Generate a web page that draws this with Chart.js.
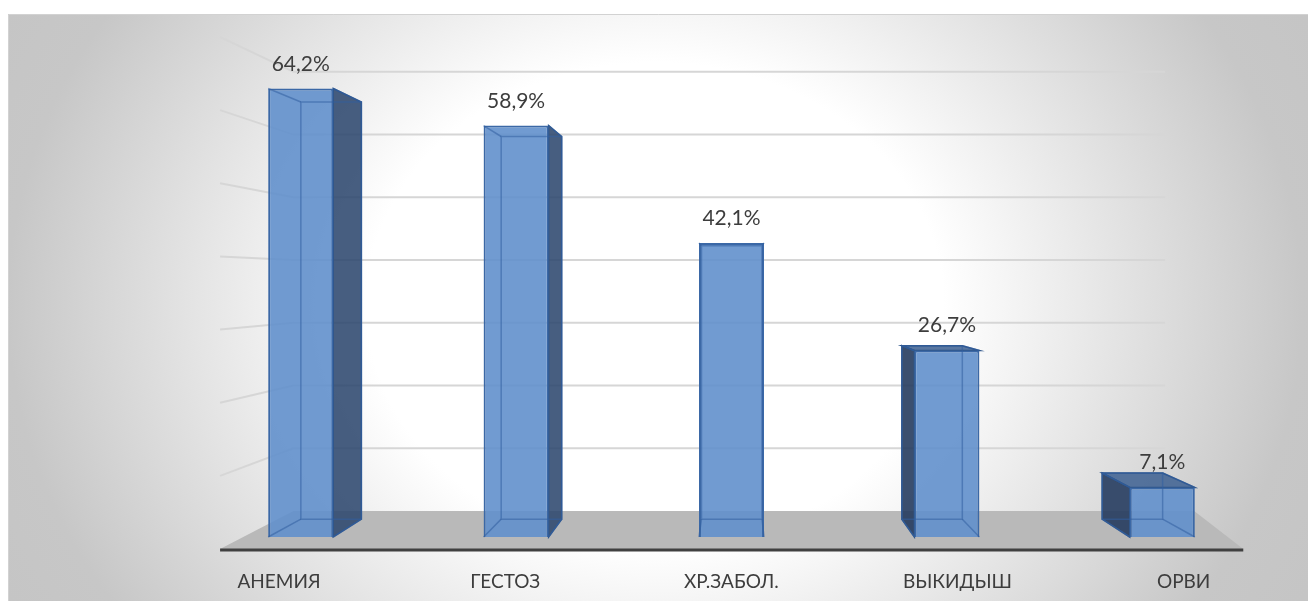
<!DOCTYPE html>
<html>
<head>
<meta charset="utf-8">
<script src="https://cdn.jsdelivr.net/npm/chart.js@4.4.0/dist/chart.umd.min.js"></script>
<style>
  html, body { margin: 0; padding: 0; background: #fff; }
  #wrap { width: 1308px; height: 601px; }
</style>
</head>
<body>
<div id="wrap"><canvas id="chart" width="1308" height="601"></canvas></div>
<script>
const categories = ['АНЕМИЯ', 'ГЕСТОЗ', 'ХР.ЗАБОЛ.', 'ВЫКИДЫШ', 'ОРВИ'];
const values = [64.2, 58.9, 42.1, 26.7, 7.1];
const valueLabels = ['64,2%', '58,9%', '42,1%', '26,7%', '7,1%'];
const yTicks = [0, 10, 20, 30, 40, 50, 60, 70];

// fake 3d: vanishing point and depth scale of each plane
const VP = { x: 735, y: 282 };
const DEPTH_BAR = 0.93;
const DEPTH_WALL = 0.898;
const DEPTH_FRONT = 1.047;
const DEPTH_LABEL = 1.05;

function proj(x, y, s) {
  return { x: VP.x + s * (x - VP.x), y: VP.y + s * (y - VP.y) };
}

function poly(ctx, pts) {
  ctx.beginPath();
  ctx.moveTo(pts[0].x, pts[0].y);
  for (let i = 1; i < pts.length; i++) ctx.lineTo(pts[i].x, pts[i].y);
  ctx.closePath();
}

function barBox(bar) {
  const p = bar.getProps(['x', 'y', 'base', 'width'], true);
  const l = p.x - p.width / 2, r = p.x + p.width / 2;
  return {
    cx: p.x, top: p.y, base: p.base, l, r,
    fTL: { x: l, y: p.y }, fTR: { x: r, y: p.y }, fBL: { x: l, y: p.base }, fBR: { x: r, y: p.base },
    bTL: proj(l, p.y, DEPTH_BAR), bTR: proj(r, p.y, DEPTH_BAR),
    bBL: proj(l, p.base, DEPTH_BAR), bBR: proj(r, p.base, DEPTH_BAR)
  };
}

const scene3d = {
  id: 'scene3d',
  beforeDraw(chart) {
    const ctx = chart.ctx;
    ctx.save();
    ctx.beginPath();
    ctx.rect(8, 14, 1300, 587);
    ctx.clip();
    // elliptic glow, white in the middle, grey at the edges
    ctx.save();
    ctx.translate(655, 305);
    ctx.scale(1, 0.84);
    const g = ctx.createRadialGradient(0, 0, 0, 0, 0, 780);
    g.addColorStop(0, '#ffffff');
    g.addColorStop(0.37, '#ffffff');
    g.addColorStop(0.83, '#c7c7c7');
    g.addColorStop(1, '#c4c4c4');
    ctx.fillStyle = g;
    ctx.fillRect(-700, -400, 1400, 800);
    ctx.restore();
    ctx.restore();

    ctx.save();
    ctx.strokeStyle = '#d2d2d2';
    ctx.lineWidth = 1;
    ctx.beginPath();
    ctx.moveTo(8.5, 601);
    ctx.lineTo(8.5, 14.5);
    ctx.lineTo(1308, 14.5);
    ctx.stroke();
    ctx.restore();
  },
  beforeDatasetsDraw(chart) {
    const { ctx, scales: { x, y } } = chart;
    const y0 = y.getPixelForValue(0);
    const xl = x.getPixelForValue(-0.267);
    const xw = x.getPixelForValue(4.24);
    const xf = x.getPixelForValue(4.27);
    const xb = x.getPixelForValue(4.39);
    ctx.save();

    // walls gridlines
    ctx.strokeStyle = '#d6d6d6';
    ctx.lineWidth = 2;
    yTicks.forEach(v => {
      if (v === 0) return;
      const py = y.getPixelForValue(v);
      const a = proj(xl, py, DEPTH_FRONT), b = proj(xl, py, DEPTH_WALL), c = proj(xw, py, DEPTH_WALL);
      ctx.beginPath();
      ctx.moveTo(a.x, a.y);
      ctx.lineTo(b.x, b.y);
      ctx.lineTo(c.x, c.y);
      ctx.stroke();
    });

    // floor
    const fl = proj(xl, y0, DEPTH_FRONT), fr = proj(xf, y0, DEPTH_FRONT);
    const bl = proj(xl, y0, DEPTH_WALL), br = proj(xb, y0, DEPTH_WALL);
    ctx.fillStyle = '#b9b9b9';
    poly(ctx, [bl, br, fr, fl]);
    ctx.fill();
    ctx.strokeStyle = '#404040';
    ctx.lineWidth = 3;
    ctx.beginPath();
    ctx.moveTo(fl.x, fl.y + 1);
    ctx.lineTo(fr.x, fr.y + 1);
    ctx.stroke();

    // side and top faces
    chart.getDatasetMeta(0).data.forEach(bar => {
      const b = barBox(bar);
      ctx.lineWidth = 1.5;
      ctx.strokeStyle = '#2f568a';
      ctx.fillStyle = 'rgba(45,72,110,0.88)';
      if (b.bTR.x > b.r + 0.5) {
        poly(ctx, [b.fTR, b.bTR, b.bBR, b.fBR]);
        ctx.fill();
        ctx.stroke();
      }
      if (b.bTL.x < b.l - 0.5) {
        poly(ctx, [b.fTL, b.bTL, b.bBL, b.fBL]);
        ctx.fillStyle = 'rgba(38,60,95,0.9)';
        ctx.fill();
        ctx.stroke();
      }
      if (b.bTL.y < b.top - 0.5) {
        poly(ctx, [b.fTL, b.bTL, b.bTR, b.fTR]);
        ctx.fillStyle = 'rgba(60,95,145,0.85)';
        ctx.fill();
        ctx.stroke();
      }
    });
    ctx.restore();
  },
  afterDatasetsDraw(chart) {
    const ctx = chart.ctx;
    ctx.save();
    chart.getDatasetMeta(0).data.forEach((bar, i) => {
      const b = barBox(bar);
      // hidden edges seen through the glass
      ctx.strokeStyle = 'rgba(50,95,160,0.55)';
      ctx.lineWidth = 1.5;
      poly(ctx, [b.bTL, b.bTR, b.bBR, b.bBL]);
      ctx.stroke();
      ctx.beginPath();
      [['fTL', 'bTL'], ['fTR', 'bTR'], ['fBL', 'bBL'], ['fBR', 'bBR']].forEach(([f, k]) => {
        ctx.moveTo(b[f].x, b[f].y);
        ctx.lineTo(b[k].x, b[k].y);
      });
      ctx.stroke();

      ctx.fillStyle = '#3d3d3d';
      ctx.textAlign = 'center';
      ctx.textBaseline = 'alphabetic';
      ctx.font = '21px Lato';
      ctx.fillText(valueLabels[i], b.cx, b.top - 18);
      ctx.font = '19px Lato';
      ctx.fillText(categories[i], VP.x + DEPTH_LABEL * (b.cx - VP.x), 588);
    });
    ctx.restore();
  }
};

new Chart(document.getElementById('chart'), {
  type: 'bar',
  data: {
    labels: categories,
    datasets: [{
      data: values,
      backgroundColor: 'rgba(98,144,204,0.9)',
      borderColor: '#3b68a6',
      borderWidth: 2,
      barPercentage: 0.302,
      categoryPercentage: 1
    }]
  },
  options: {
    responsive: false,
    animation: false,
    devicePixelRatio: 1,
    layout: { padding: { left: 193, right: 38, top: 48, bottom: 64 } },
    plugins: {
      legend: { display: false },
      tooltip: { enabled: false }
    },
    scales: {
      x: { display: false },
      y: { display: false, min: 0, max: 70 }
    }
  },
  plugins: [scene3d]
});
</script>
</body>
</html>
